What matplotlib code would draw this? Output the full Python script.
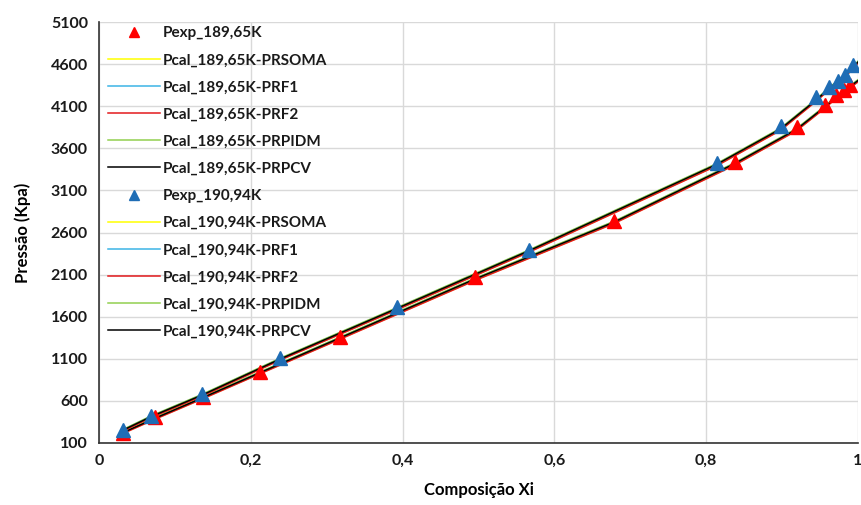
import matplotlib.pyplot as plt

plt.rcParams['font.family'] = ['Lato', 'DejaVu Sans']

# experimental data, 189,65 K
x_exp_189 = [0.032, 0.074, 0.137, 0.212, 0.318, 0.496, 0.679, 0.838, 0.919, 0.956, 0.971, 0.981, 0.989]
p_exp_189 = [222, 405, 650, 947, 1362, 2068, 2740, 3441, 3856, 4114, 4233, 4292, 4352]

# experimental data, 190,94 K
x_exp_190 = [0.031, 0.069, 0.136, 0.238, 0.393, 0.567, 0.814, 0.898, 0.945, 0.962, 0.974, 0.983, 0.994]
p_exp_190 = [254, 421, 678, 1106, 1711, 2392, 3422, 3865, 4206, 4331, 4403, 4470, 4589]

# calculated curves, 189,65 K
x_cal_189 = [0.032, 0.074, 0.137, 0.212, 0.318, 0.496, 0.679, 0.838, 0.919, 0.956, 0.971, 0.981, 0.989, 1.0]
p_189_soma = [218, 387, 630, 925, 1338, 2036, 2712, 3406, 3812, 4078, 4193, 4258, 4318, 4392]
p_189_prf1 = [229, 399, 644, 940, 1355, 2055, 2730, 3425, 3830, 4096, 4210, 4276, 4336, 4410]
p_189_prf2 = [214, 383, 626, 921, 1334, 2032, 2708, 3402, 3808, 4074, 4190, 4255, 4315, 4388]
p_189_pidm = [233, 403, 648, 944, 1360, 2060, 2735, 3430, 3835, 4100, 4214, 4280, 4340, 4415]
p_189_pcv = [225, 395, 640, 935, 1350, 2050, 2725, 3420, 3825, 4090, 4205, 4270, 4330, 4405]

# calculated curves, 190,94 K
x_cal_190 = [0.031, 0.069, 0.136, 0.238, 0.393, 0.567, 0.814, 0.898, 0.945, 0.962, 0.974, 0.983, 0.994, 1.0]
p_190_soma = [243, 407, 661, 1085, 1688, 2372, 3396, 3817, 4163, 4298, 4388, 4453, 4553, 4613]
p_190_prf1 = [254, 419, 675, 1100, 1705, 2390, 3415, 3835, 4180, 4315, 4405, 4470, 4570, 4630]
p_190_prf2 = [239, 403, 657, 1081, 1684, 2368, 3392, 3813, 4159, 4294, 4384, 4449, 4549, 4609]
p_190_pidm = [258, 423, 679, 1104, 1710, 2395, 3420, 3840, 4185, 4320, 4410, 4475, 4575, 4635]
p_190_pcv = [250, 415, 670, 1095, 1700, 2385, 3410, 3830, 4175, 4310, 4400, 4465, 4565, 4625]

yellow = '#ffff00'
lblue = '#3cb4e6'
red = '#e31a1c'
green = '#92d050'
black = '#000000'

fig = plt.figure(figsize=(8.61, 5.05), dpi=100)
ax = fig.add_axes([0.115, 0.1228, 0.8815, 0.8336])

lw = 1.1
ax.plot(x_exp_189, p_exp_189, '^', color='#ff0000', ms=10, ls='none', label='Pexp_189,65K', zorder=4)
ax.plot(x_cal_189, p_189_soma, color=yellow, lw=lw, label='Pcal_189,65K-PRSOMA')
ax.plot(x_cal_189, p_189_prf1, color=lblue, lw=lw, label='Pcal_189,65K-PRF1')
ax.plot(x_cal_189, p_189_prf2, color=red, lw=lw, label='Pcal_189,65K-PRF2')
ax.plot(x_cal_189, p_189_pidm, color=green, lw=lw, label='Pcal_189,65K-PRPIDM')
ax.plot(x_cal_189, p_189_pcv, color=black, lw=lw, label='Pcal_189,65K-PRPCV')
ax.plot(x_exp_190, p_exp_190, '^', color='#1f6db5', ms=10, ls='none', label='Pexp_190,94K', zorder=5)
ax.plot(x_cal_190, p_190_soma, color=yellow, lw=lw, label='Pcal_190,94K-PRSOMA')
ax.plot(x_cal_190, p_190_prf1, color=lblue, lw=lw, label='Pcal_190,94K-PRF1')
ax.plot(x_cal_190, p_190_prf2, color=red, lw=lw, label='Pcal_190,94K-PRF2')
ax.plot(x_cal_190, p_190_pidm, color=green, lw=lw, label='Pcal_190,94K-PRPIDM')
ax.plot(x_cal_190, p_190_pcv, color=black, lw=lw, label='Pcal_190,94K-PRPCV')

ax.set_xlim(0, 1)
ax.set_ylim(100, 5100)
ax.set_xticks([0, 0.2, 0.4, 0.6, 0.8, 1.0])
ax.set_xticklabels(['0', '0,2', '0,4', '0,6', '0,8', '1'])
ax.set_yticks(range(100, 5101, 500))
ax.tick_params(length=0, labelsize=11.5, pad=8)
for t in ax.get_xticklabels() + ax.get_yticklabels():
    t.set_fontweight('bold')
    t.set_color('#1a1a1a')

ax.grid(True, color='#d9d9d9', lw=1)
ax.set_axisbelow(True)
for s in ['top', 'right']:
    ax.spines[s].set_visible(False)
for s in ['left', 'bottom']:
    ax.spines[s].set_color('#333333')
    ax.spines[s].set_linewidth(1.2)

ax.set_xlabel('Composição Xi', fontsize=12, fontweight='bold', labelpad=10)
ax.set_ylabel('Pressão (Kpa)', fontsize=12, fontweight='bold', labelpad=14)

leg = ax.legend(loc='upper left', bbox_to_anchor=(0.0, 1.012), frameon=False,
                fontsize=11, labelspacing=0.86, handlelength=3.4,
                handletextpad=0.15, borderaxespad=0.2, markerscale=0.75)
for t in leg.get_texts():
    t.set_fontweight('bold')
    t.set_color('#1a1a1a')

fig.savefig('out.png', dpi=100)
